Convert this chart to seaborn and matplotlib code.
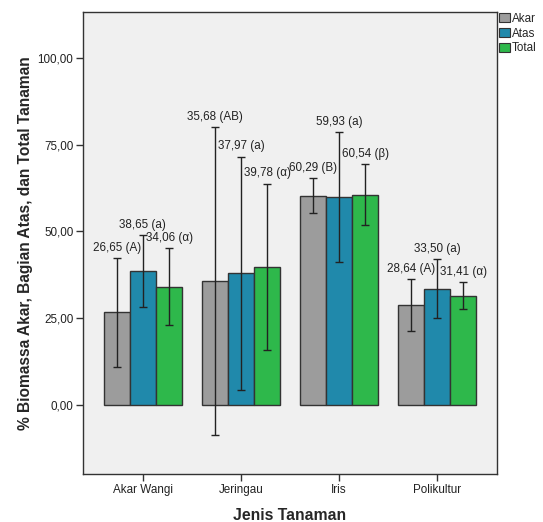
import numpy as np
import pandas as pd
import seaborn as sns
import matplotlib
matplotlib.use("Agg")
import matplotlib.pyplot as plt
from matplotlib.patches import Patch

# Plant types and biomass shares (%)
categories = ["Akar Wangi", "Jeringau", "Iris", "Polikultur"]
series = ["Akar", "Atas", "Total"]
akar = [26.65, 35.68, 60.29, 28.64]
atas = [38.65, 37.97, 59.93, 33.50]
total = [34.06, 39.78, 60.54, 31.41]
# Error bar half-widths
akar_err = [15.7, 44.4, 5.1, 7.5]
atas_err = [10.4, 33.6, 18.8, 8.6]
total_err = [11.1, 24.0, 8.8, 3.9]
# Significance letters
akar_sig = ["A", "AB", "B", "A"]
atas_sig = ["a", "a", "a", "a"]
total_sig = ["α", "α", "β", "α"]
y_ticks = [0, 25, 50, 75, 100]

colors = ["#9c9c9c", "#2089ab", "#2eb84b"]

sns.set_style("white")
plt.rcParams["font.family"] = ["Liberation Sans", "DejaVu Sans"]

values = [akar, atas, total]
errs = [akar_err, atas_err, total_err]
sigs = [akar_sig, atas_sig, total_sig]

df = pd.DataFrame({
    "Jenis": categories * 3,
    "Seri": np.repeat(series, len(categories)),
    "Nilai": akar + atas + total,
})

fig = plt.figure(figsize=(5.43, 5.22), dpi=100)
ax = fig.add_axes([0.1529, 0.092, 0.7624, 0.885])
ax.set_facecolor("#f0f0f0")

sns.barplot(data=df, x="Jenis", y="Nilai", hue="Seri", order=categories,
            hue_order=series, palette=colors, errorbar=None, width=0.8,
            edgecolor="#333333", linewidth=1.0, saturation=1, ax=ax,
            legend=False)

# Bars come in hue order, each covering all categories
n = len(categories)
for s in range(len(series)):
    for i in range(n):
        bar = ax.patches[s * n + i]
        xc = bar.get_x() + bar.get_width() / 2
        v = values[s][i]
        e = errs[s][i]
        ax.errorbar(xc, v, yerr=e, fmt="none", ecolor="#222222",
                    elinewidth=1.0, capsize=3, capthick=1.0, zorder=5)
        txt = f"{v:.2f}".replace(".", ",") + f" ({sigs[s][i]})"
        ax.annotate(txt, (xc, v + e), xytext=(0, 3), textcoords="offset points",
                    ha="center", va="bottom", fontsize=8.4, color="#222222",
                    zorder=6)

ax.set_xlim(-0.61, 3.61)
ax.set_ylim(-20, 113.3)
ax.set_yticks(y_ticks)
ax.set_yticklabels([f"{t:.2f}".replace(".", ",") for t in y_ticks])
ax.tick_params(axis="both", direction="out", length=5, width=1,
               color="#333333", labelsize=8.4, labelcolor="#222222", pad=2,
               left=True, bottom=True)
for sp in ax.spines.values():
    sp.set_color("#333333")
    sp.set_linewidth(1.0)

ax.set_xlabel("Jenis Tanaman", fontsize=11.3, fontweight="bold", labelpad=9)
ax.set_ylabel("% Biomassa Akar, Bagian Atas, dan Total Tanaman", fontsize=11.2,
              fontweight="bold", labelpad=3)

handles = [Patch(facecolor=c, edgecolor="#333333", linewidth=0.8) for c in colors]
fig.legend(handles, series, loc="upper left", bbox_to_anchor=(0.917, 0.978),
           frameon=False, fontsize=8.4, handlelength=0.9, handleheight=0.9,
           handletextpad=0.2, labelspacing=0.25, borderaxespad=0, borderpad=0.1)

fig.savefig("out.png", dpi=100)
